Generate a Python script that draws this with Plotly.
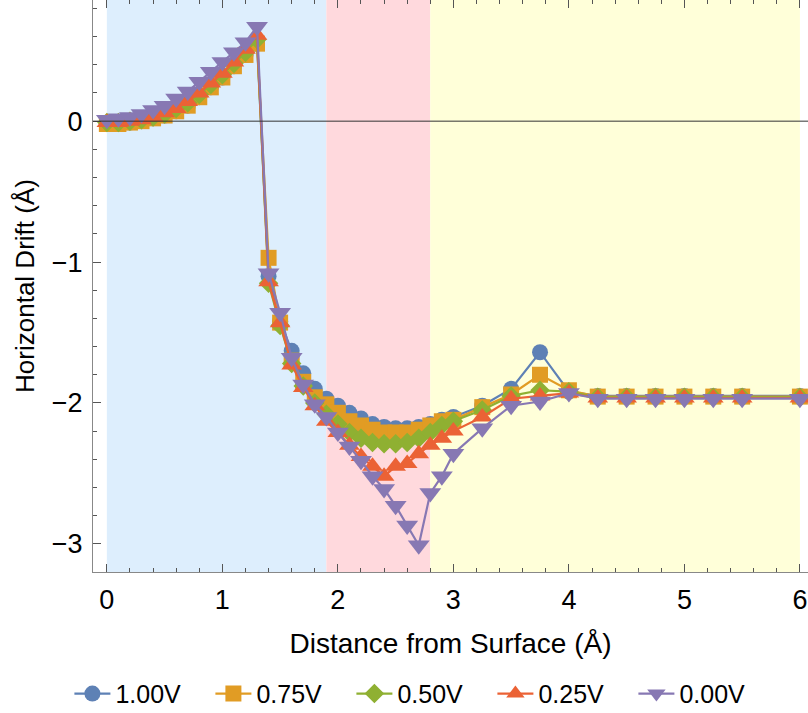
import plotly.graph_objects as go

# ---- data ----
x_vals = [0.0, 0.1, 0.2, 0.3, 0.4, 0.5, 0.6, 0.7, 0.8, 0.9, 1.0, 1.1, 1.2, 1.3,
          1.4, 1.5, 1.6, 1.7, 1.8, 1.9, 2.0, 2.1, 2.2, 2.3, 2.4, 2.5, 2.6, 2.7, 2.8, 2.9, 3.0,
          3.25, 3.5, 3.75, 4.0, 4.25, 4.5, 4.75, 5.0, 5.25, 5.5, 6.0]

v100 = [-0.02, -0.02, -0.01, 0.00, 0.02, 0.04, 0.07, 0.11, 0.17, 0.24, 0.31, 0.39, 0.47, 0.55,
        -1.10, -1.42, -1.63, -1.79, -1.90, -1.97, -2.02, -2.07, -2.11, -2.15, -2.17, -2.18, -2.18, -2.17, -2.15, -2.12, -2.10,
        -2.02, -1.90, -1.64, -1.92, -1.95, -1.95, -1.95, -1.95, -1.95, -1.95, -1.95]
v075 = [-0.02, -0.02, -0.01, 0.00, 0.02, 0.04, 0.07, 0.11, 0.17, 0.24, 0.31, 0.39, 0.47, 0.55,
        -0.97, -1.43, -1.70, -1.85, -1.96, -2.01, -2.07, -2.13, -2.16, -2.19, -2.21, -2.21, -2.21, -2.19, -2.16, -2.13, -2.12,
        -2.03, -1.94, -1.80, -1.91, -1.955, -1.955, -1.955, -1.955, -1.955, -1.955, -1.955]
v050 = [-0.01, -0.01, 0.00, 0.01, 0.03, 0.05, 0.09, 0.13, 0.19, 0.26, 0.33, 0.41, 0.49, 0.58,
        -1.15, -1.45, -1.72, -1.88, -2.00, -2.08, -2.15, -2.21, -2.25, -2.28, -2.29, -2.29, -2.28, -2.25, -2.21, -2.16, -2.13,
        -2.05, -1.95, -1.91, -1.92, -1.96, -1.96, -1.96, -1.96, -1.96, -1.96, -1.96]
v025 = [-0.01, -0.01, 0.00, 0.01, 0.03, 0.06, 0.09, 0.14, 0.20, 0.27, 0.34, 0.42, 0.51, 0.61,
        -1.14, -1.43, -1.73, -1.89, -2.02, -2.13, -2.21, -2.30, -2.38, -2.45, -2.52, -2.45, -2.43, -2.36, -2.30, -2.25, -2.20,
        -2.10, -1.97, -1.95, -1.93, -1.965, -1.965, -1.965, -1.965, -1.965, -1.965, -1.965]
v000 = [0.01, 0.02, 0.03, 0.05, 0.08, 0.11, 0.16, 0.21, 0.28, 0.35, 0.42, 0.49, 0.56, 0.67,
        -1.08, -1.36, -1.68, -1.87, -2.01, -2.10, -2.21, -2.31, -2.41, -2.52, -2.61, -2.73, -2.87, -3.01, -2.64, -2.52, -2.36,
        -2.18, -2.02, -1.99, -1.93, -1.97, -1.97, -1.97, -1.97, -1.97, -1.97, -1.97]

series_names = ["1.00V", "0.75V", "0.50V", "0.25V", "0.00V"]
series_vals = [v100, v075, v050, v025, v000]
colors = ["#5E81B5", "#E19C24", "#8FB032", "#EB6235", "#8778B3"]
symbols = ["circle", "square", "diamond", "triangle-up", "triangle-down"]
sizes = [16, 16, 15, 18, 19]

regions = [(0.0, 1.9, "#DDEEFD"), (1.9, 2.8, "#FFD9DD"), (2.8, 6.0, "#FFFFD9")]

FONT = "Liberation Sans"

fig = go.Figure()
for name, vals, c, s, sz in zip(series_names, series_vals, colors, symbols, sizes):
    fig.add_trace(go.Scatter(
        x=x_vals, y=vals, name=name, mode="lines+markers",
        line=dict(color=c, width=2.2),
        marker=dict(symbol=s, size=sz, color=c, line=dict(width=0)),
    ))

shapes = []
for x0, x1, col in regions:
    shapes.append(dict(type="rect", xref="x", yref="paper", x0=x0, x1=x1, y0=0, y1=1,
                       fillcolor=col, line=dict(width=0), layer="below"))
shapes.append(dict(type="line", xref="paper", yref="y", x0=0, x1=1, y0=0, y1=0,
                   line=dict(color="#333333", width=1), layer="above"))

fig.update_layout(
    width=808, height=713,
    margin=dict(l=93, r=0, t=0, b=141, autoexpand=False),
    plot_bgcolor="white", paper_bgcolor="white",
    font=dict(family=FONT, size=26, color="black"),
    shapes=shapes,
    showlegend=True,
    legend=dict(orientation="h", x=0.46, xanchor="center", y=-0.213, yanchor="middle",
                font=dict(family=FONT, size=25), itemwidth=36,
                entrywidth=90, entrywidthmode="pixels",
                bgcolor="rgba(0,0,0,0)"),
)

fig.update_xaxes(
    range=[-0.12, 6.07], dtick=1, tick0=0,
    showgrid=False, zeroline=False,
    showline=True, linecolor="#888888", linewidth=1, mirror="ticks",
    ticks="inside", ticklen=8, tickcolor="#555555",
    minor=dict(dtick=0.2, ticks="inside", ticklen=4, tickcolor="#555555"),
    tickfont=dict(family=FONT, size=27),
    ticklabelstandoff=4,
    title=dict(text="Distance from Surface (Å)", font=dict(family=FONT, size=28), standoff=18),
)
fig.update_yaxes(
    range=[-3.2, 0.86], dtick=1, tick0=0,
    showgrid=False, zeroline=False,
    showline=True, linecolor="#888888", linewidth=1,
    ticks="inside", ticklen=8, tickcolor="#555555",
    minor=dict(dtick=0.2, ticks="inside", ticklen=4, tickcolor="#555555"),
    tickfont=dict(family=FONT, size=27),
    ticklabelstandoff=4,
    title=dict(text="Horizontal Drift (Å)", font=dict(family=FONT, size=26), standoff=9),
)

fig.write_html("out.html")
